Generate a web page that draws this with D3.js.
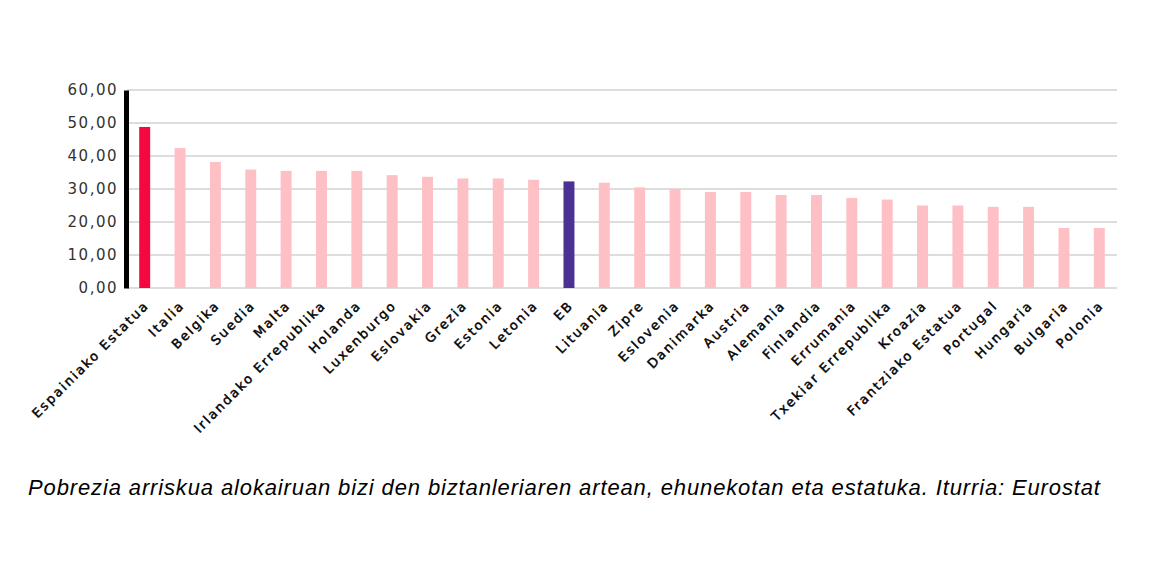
<!DOCTYPE html>
<html>
<head>
<meta charset="utf-8">
<script src="https://cdn.jsdelivr.net/npm/d3@7"></script>
<style>
  body { margin: 0; background: #fff; }
  .y-axis text { font-family: "DejaVu Sans", sans-serif; font-size: 15px; fill: #333; letter-spacing: 1.5px; }
  .x-label { font-family: "DejaVu Sans", sans-serif; font-size: 13px; fill: #000; stroke: #000; stroke-width: 0.4px; letter-spacing: 2px; }
  .caption { font-family: "Liberation Sans", Arial, sans-serif; font-size: 22px; font-style: italic; fill: #000; }
</style>
</head>
<body>
<svg id="chart"></svg>
<script>
// Country names (Basque) and at-risk-of-poverty rate among tenants, %
const countries = ['Espainiako Estatua', 'Italia', 'Belgika', 'Suedia', 'Malta', 'Irlandako Errepublika',
  'Holanda', 'Luxenburgo', 'Eslovakia', 'Grezia', 'Estonia', 'Letonia', 'EB', 'Lituania', 'Zipre',
  'Eslovenia', 'Danimarka', 'Austria', 'Alemania', 'Finlandia', 'Errumania', 'Txekiar Errepublika',
  'Kroazia', 'Frantziako Estatua', 'Portugal', 'Hungaria', 'Bulgaria', 'Polonia'];
const values = [48.8, 42.4, 38.2, 35.9, 35.5, 35.5, 35.5, 34.2, 33.7, 33.2, 33.2, 32.8, 32.3, 31.9, 30.5,
  30.0, 29.1, 29.1, 28.2, 28.2, 27.3, 26.8, 25.0, 25.0, 24.6, 24.6, 18.2, 18.2];
const yTicks = [0, 10, 20, 30, 40, 50, 60];
const caption = 'Pobrezia arriskua alokairuan bizi den biztanleriaren artean, ehunekotan eta estatuka. Iturria: Eurostat';

const data = countries.map((c, i) => ({country: c, value: values[i]}));

const width = 1170, height = 581;
const margin = {top: 90, right: 53, bottom: 293, left: 127};

const svg = d3.select('#chart')
    .attr('width', width)
    .attr('height', height);

const x = d3.scaleBand()
    .domain(countries)
    .range([margin.left, width - margin.right])
    .paddingInner(0.69)
    .paddingOuter(0.345);

const y = d3.scaleLinear()
    .domain([0, 60])
    .range([height - margin.bottom, margin.top]);

const fmt = d => d3.format('.2f')(d).replace('.', ',');

// gridlines
svg.append('g')
  .selectAll('line')
  .data(yTicks)
  .join('line')
    .attr('x1', margin.left)
    .attr('x2', width - margin.right)
    .attr('y1', d => y(d))
    .attr('y2', d => y(d))
    .attr('stroke', '#dddddd')
    .attr('stroke-width', 2);

// bars
const barColor = d => {
  if (d.country === 'Espainiako Estatua') return '#f5083f';
  if (d.country === 'EB') return '#4a3192';
  return '#ffc0c5';
};

svg.append('g')
  .selectAll('rect')
  .data(data)
  .join('rect')
    .attr('x', d => x(d.country))
    .attr('width', x.bandwidth())
    .attr('y', d => y(d.value))
    .attr('height', d => y(0) - y(d.value))
    .attr('fill', barColor);

// y axis
const yAxisG = svg.append('g')
    .attr('class', 'axis y-axis')
    .attr('transform', `translate(${margin.left - 1},0)`)
    .call(d3.axisLeft(y).tickValues(yTicks).tickFormat(fmt).tickSize(0).tickPadding(8));

yAxisG.select('.domain')
    .attr('stroke', '#000')
    .attr('stroke-width', 5);

// x labels
svg.append('g')
  .selectAll('text')
  .data(countries)
  .join('text')
    .attr('class', 'x-label')
    .attr('text-anchor', 'end')
    .attr('transform', d => `translate(${x(d) + x.bandwidth() / 2 + 2},${y(0) + 15}) rotate(-45)`)
    .attr('dy', '0.35em')
    .text(d => d);

// caption
svg.append('text')
    .attr('class', 'caption')
    .attr('x', 28)
    .attr('y', 495)
    .attr('textLength', 1072)
    .attr('lengthAdjust', 'spacing')
    .text(caption);
</script>
</body>
</html>
